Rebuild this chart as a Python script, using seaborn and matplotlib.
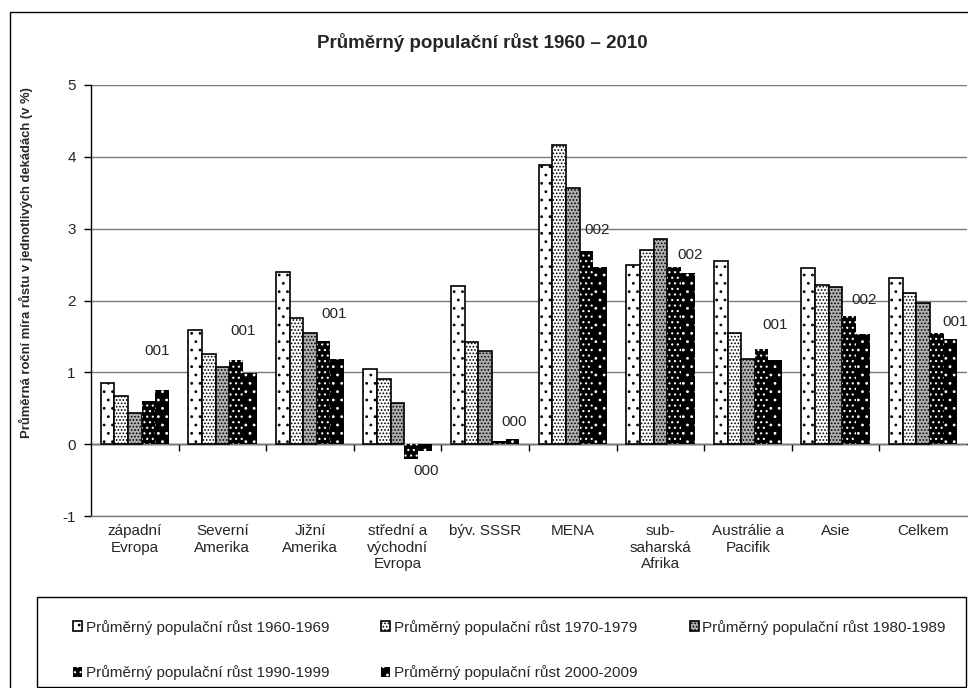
import matplotlib
matplotlib.use("Agg")
import matplotlib.pyplot as plt
from matplotlib.patches import Rectangle, Patch
import numpy as np
import pandas as pd
import seaborn as sns

# --- data -------------------------------------------------------------
regions = ["západní\nEvropa", "Severní\nAmerika", "Jižní\nAmerika",
           "střední a\nvýchodní\nEvropa", "býv. SSSR", "MENA",
           "sub-\nsaharská\nAfrika", "Austrálie a\nPacifik", "Asie", "Celkem"]
periods = ["Průměrný populační růst 1960-1969",
           "Průměrný populační růst 1970-1979",
           "Průměrný populační růst 1980-1989",
           "Průměrný populační růst 1990-1999",
           "Průměrný populační růst 2000-2009"]
growth_1960s = [0.85, 1.59, 2.40, 1.05, 2.20, 3.89, 2.49, 2.55, 2.45, 2.32]
growth_1970s = [0.67, 1.25, 1.75, 0.91, 1.42, 4.16, 2.70, 1.55, 2.21, 2.11]
growth_1980s = [0.44, 1.07, 1.55, 0.58, 1.30, 3.57, 2.85, 1.18, 2.19, 1.97]
growth_1990s = [0.60, 1.17, 1.43, -0.21, 0.05, 2.69, 2.46, 1.33, 1.78, 1.55]
growth_2000s = [0.75, 0.99, 1.18, -0.10, 0.07, 2.46, 2.38, 1.17, 1.54, 1.46]
note_labels = ["001", "001", "001", "000", "000", "002", "002", "001", "002", "001"]
note_y = [1.30, 1.57, 1.81, -0.38, 0.31, 2.98, 2.63, 1.66, 2.00, 1.70]
note_dx = [0.25, 0.24, 0.28, 0.32, 0.33, 0.28, 0.34, 0.31, 0.33, 0.36]
y_ticks = [-1, 0, 1, 2, 3, 4, 5]

series = [growth_1960s, growth_1970s, growth_1980s, growth_1990s, growth_2000s]
df = pd.DataFrame({
    "region": np.tile(regions, len(periods)),
    "period": np.repeat(periods, len(regions)),
    "value": np.concatenate(series),
})

# --- styling ------------------------------------------------------------
sns.set_theme(style="white")
plt.rcParams["font.family"] = ["Liberation Sans", "DejaVu Sans"]
plt.rcParams["hatch.linewidth"] = 0.8

W, H = 968, 688
fig = plt.figure(figsize=(W / 100, H / 100), dpi=100)
ax = fig.add_axes([91 / W, 1 - 516 / H, 876 / W, 431 / H])

sns.barplot(data=df, x="region", y="value", hue="period", order=regions,
            hue_order=periods, width=0.78, gap=0, palette=["white"] * 5,
            saturation=1, edgecolor="black", linewidth=1.2, legend=False,
            errorbar=None, ax=ax, zorder=3)

faces = ["white", "white", "#b0b0b0", "black", "black"]
edges = ["black", "black", "black", "white", "white"]
hatches = ["..", ".....", ".....", "...", ".."]
widths = [1.2, 1.2, 1.2, 0, 0]
for k, cont in enumerate(ax.containers):
    for bar in cont:
        bar.set_facecolor(faces[k])
        bar.set_edgecolor(edges[k])
        bar.set_hatch(hatches[k])
        bar.set_linewidth(widths[k])

ax.set_xlim(-0.5, len(regions) - 0.5)
ax.set_ylim(-1, 5)
ax.set_yticks(y_ticks)
ax.set_yticklabels([str(t) for t in y_ticks])
ax.yaxis.grid(True, color="#7a7a7a", linewidth=1.0, zorder=0)
ax.set_axisbelow(True)
for s in ["top", "right"]:
    ax.spines[s].set_visible(False)
ax.spines["left"].set_color("black")
ax.spines["left"].set_linewidth(1.0)
ax.spines["bottom"].set_color("#7a7a7a")
ax.spines["bottom"].set_linewidth(1.0)
ax.tick_params(axis="y", direction="out", length=5, width=1, color="black",
               labelsize=11, pad=6, left=True)
ax.tick_params(axis="x", length=0, labelsize=11, pad=6)
for lab in ax.get_xticklabels():
    lab.set_linespacing(1.2)
ax.set_xlabel("")
ax.set_ylabel("Průměrná roční míra růstu v jednotlivých dekádách (v %)",
              fontsize=9.4, fontweight="bold")
ax.yaxis.set_label_coords((33 - 91) / 876, (516 - 263) / 431)

# category axis crossing at zero with boundary ticks
zero_axis = ax.secondary_xaxis(1 / 6)
zero_axis.set_xticks(np.arange(0.5, len(regions) - 0.5, 1))
zero_axis.tick_params(axis="x", direction="out", length=5, width=1,
                      color="black", labelbottom=False, labeltop=False)
for s in zero_axis.spines.values():
    s.set_color("black")
    s.set_linewidth(1.0)

# short notes next to each group
for i, (txt, yv, dx) in enumerate(zip(note_labels, note_y, note_dx)):
    ax.text(i + dx, yv, txt, ha="center", va="center", fontsize=11, zorder=5)

fig.suptitle("Průměrný populační růst 1960 – 2010", x=482 / W, y=1 - 42 / H,
             va="center", fontsize=13.5, fontweight="bold")

# chart area border and legend box
fig.add_artist(Rectangle((10 / W, -0.1), 1.2, 1.1 - 12 / H,
                         transform=fig.transFigure, fill=False,
                         edgecolor="black", linewidth=1.0))
fig.add_artist(Rectangle((37 / W, 1 - 687 / H), (966 - 37) / W, 90 / H,
                         transform=fig.transFigure, fill=False,
                         edgecolor="black", linewidth=1.0))

handles = [Patch(facecolor=faces[k], edgecolor=edges[k], hatch=hatches[k],
                 linewidth=widths[k]) for k in range(len(periods))]
order = [0, 3, 1, 4, 2]
fig.legend([handles[k] for k in order], [periods[k] for k in order], ncol=3,
           loc="upper left", bbox_to_anchor=(65 / W, 1 - 612 / H),
           frameon=False, borderpad=0, fontsize=11, handlelength=0.6,
           handleheight=0.6, handletextpad=0.25, columnspacing=3.4,
           labelspacing=2.0)

fig.savefig("out.png", dpi=100)
